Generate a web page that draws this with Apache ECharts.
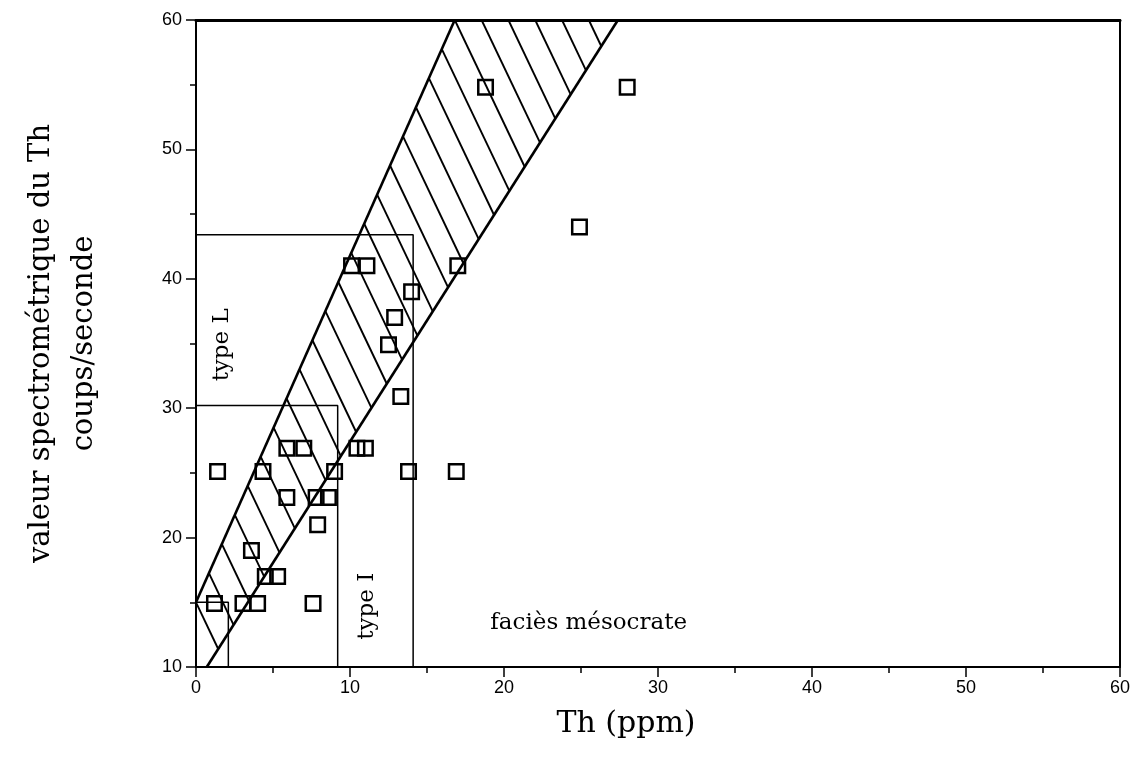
<!DOCTYPE html>
<html>
<head>
<meta charset="utf-8">
<script src="https://cdn.jsdelivr.net/npm/echarts@6/dist/echarts.min.js"></script>
<style>
html,body{margin:0;padding:0;background:#fff;}
#chart{width:1136px;height:757px;}
</style>
</head>
<body>
<div id="chart"></div>
<script>
// ---- data ----
const xTitle = 'Th (ppm)';
const yTitle = 'valeur spectrométrique du Th\ncoups/seconde';
const xTicks = [0, 10, 20, 30, 40, 50, 60];
const yTicks = [10, 20, 30, 40, 50, 60];

// samples: [Th ppm, counts/s]
const samples = [
  [18.8, 54.8], [28.0, 54.8], [24.9, 44.0],
  [10.1, 41.0], [11.1, 41.0], [17.0, 41.0],
  [14.0, 39.0], [12.9, 37.0], [12.5, 34.9], [13.3, 30.9],
  [5.9, 26.9], [7.0, 26.9], [10.45, 26.9], [11.0, 26.9],
  [1.4, 25.1], [4.35, 25.1], [9.0, 25.1], [13.8, 25.1], [16.9, 25.1],
  [5.9, 23.1], [7.8, 23.1], [8.6, 23.1],
  [7.9, 21.0], [3.6, 19.0],
  [4.5, 17.0], [5.3, 17.0],
  [1.2, 14.9], [3.05, 14.9], [4.0, 14.9], [7.6, 14.9]
];

// hatched band boundaries
const bandLeft = [[0, 15], [16.8, 60]];
const bandRight = [[0.7, 10], [27.4, 60]];

// domain boxes
const boxTypeL = [[0, 43.4], [14.1, 43.4], [14.1, 10]];
const boxInner = [[0, 30.2], [9.2, 30.2], [9.2, 10]];
const boxSmall = [[0, 15], [2.1, 15], [2.1, 10]];

// text annotations: [x, y, text, rotation]
const annotations = [
  [1.7, 34.9, 'type L', 90],
  [11.1, 14.7, 'type I', 90],
  [25.5, 13.4, 'faciès mésocrate', 0]
];

// ---- chart ----
const hatchPoly = [bandLeft[0], bandLeft[1], bandRight[1], bandRight[0]];

function renderHatch(params, api) {
  const poly = hatchPoly.map(p => api.coord(p));
  const ang = Math.atan(2.1);
  const d = [Math.cos(ang), Math.sin(ang)];
  const n = [-d[1], d[0]];
  const a = poly[0];
  const s = poly.map(p => (p[0] - a[0]) * n[0] + (p[1] - a[1]) * n[1]);
  const sp = 24.2;
  const kmin = Math.ceil(Math.min.apply(null, s) / sp - 1e-6);
  const kmax = Math.floor(Math.max.apply(null, s) / sp + 1e-6);
  const children = [];
  for (let k = kmin; k <= kmax; k++) {
    const target = k * sp;
    const pts = [];
    for (let i = 0; i < poly.length; i++) {
      const j = (i + 1) % poly.length;
      const sa = s[i] - target, sb = s[j] - target;
      if (((sa <= 0 && sb >= 0) || (sa >= 0 && sb <= 0)) && sa !== sb) {
        const t = sa / (sa - sb);
        pts.push([poly[i][0] + (poly[j][0] - poly[i][0]) * t, poly[i][1] + (poly[j][1] - poly[i][1]) * t]);
      }
    }
    if (pts.length < 2) continue;
    pts.sort((p, q) => (p[0] * d[0] + p[1] * d[1]) - (q[0] * d[0] + q[1] * d[1]));
    const p1 = pts[0], p2 = pts[pts.length - 1];
    if (Math.hypot(p2[0] - p1[0], p2[1] - p1[1]) < 1) continue;
    children.push({
      type: 'line',
      shape: { x1: p1[0], y1: p1[1], x2: p2[0], y2: p2[1] },
      style: { stroke: '#000', lineWidth: 1.9 }
    });
  }
  return { type: 'group', children: children };
}

function lineSeries(pts, w) {
  return {
    type: 'line', data: pts, symbol: 'none', silent: true,
    lineStyle: { color: '#000', width: w }, z: 3, animation: false
  };
}

const chart = echarts.init(document.getElementById('chart'), null, { renderer: 'canvas' });

const tickFont = { color: '#000', fontFamily: 'Liberation Sans', fontSize: 18 };

chart.setOption({
  backgroundColor: '#fff',
  animation: false,
  grid: { left: 196, right: 16, top: 20, bottom: 90 },
  xAxis: [{
    type: 'value', min: xTicks[0], max: xTicks[xTicks.length - 1], interval: 10,
    name: xTitle, nameLocation: 'middle', nameGap: 42,
    nameTextStyle: { fontFamily: 'DejaVu Serif', fontSize: 30, color: '#000', padding: [0, 64, 0, 0] },
    axisLine: { lineStyle: { color: '#000', width: 2 } },
    axisTick: { show: true, length: 10, lineStyle: { color: '#000', width: 1.5 } },
    minorTick: { show: true, splitNumber: 2, length: 6, lineStyle: { color: '#000', width: 1.5 } },
    splitLine: { show: false },
    axisLabel: Object.assign({ margin: 12 }, tickFont)
  }, {
    type: 'value', position: 'top', min: 0, max: 60,
    axisLine: { show: true, onZero: false, lineStyle: { color: '#000', width: 3 } },
    axisTick: { show: false }, axisLabel: { show: false }, splitLine: { show: false }
  }],
  yAxis: [{
    type: 'value', min: yTicks[0], max: yTicks[yTicks.length - 1], interval: 10,
    name: yTitle, nameLocation: 'middle', nameGap: 90,
    nameTextStyle: { fontFamily: 'DejaVu Serif', fontSize: 29, color: '#000', lineHeight: 43, align: 'center' },
    axisLine: { show: true, lineStyle: { color: '#000', width: 2 } },
    axisTick: { show: true, length: 10, lineStyle: { color: '#000', width: 1.5 } },
    minorTick: { show: true, splitNumber: 2, length: 6, lineStyle: { color: '#000', width: 1.5 } },
    splitLine: { show: false },
    axisLabel: Object.assign({ margin: 14 }, tickFont)
  }, {
    type: 'value', position: 'right', min: 10, max: 60,
    axisLine: { show: true, onZero: false, lineStyle: { color: '#000', width: 2 } },
    axisTick: { show: false }, axisLabel: { show: false }, splitLine: { show: false }
  }],
  series: [
    {
      type: 'custom', renderItem: renderHatch, data: [hatchPoly[0]], silent: true, z: 2, clip: true
    },
    lineSeries(bandLeft, 2.6),
    lineSeries(bandRight, 2.6),
    lineSeries(boxTypeL, 1.5),
    lineSeries(boxInner, 1.5),
    lineSeries(boxSmall, 1.5),
    {
      type: 'scatter', data: annotations.map(a => ({
        value: [a[0], a[1]],
        label: { show: true, formatter: a[2], rotate: a[3], position: 'inside',
          fontFamily: 'DejaVu Serif', fontSize: 23, color: '#000',
          textBorderWidth: 0, textBorderColor: 'transparent', textShadowBlur: 0, opacity: 1 }
      })),
      itemStyle: { color: '#000', opacity: 1 },
      symbolSize: 0, silent: true, z: 4
    },
    {
      type: 'scatter', data: samples, symbol: 'rect', symbolSize: 14.5,
      itemStyle: { color: 'rgba(0,0,0,0)', borderColor: '#000', borderWidth: 2.5, opacity: 1 },
      z: 5, silent: true
    }
  ]
});
</script>
</body>
</html>
